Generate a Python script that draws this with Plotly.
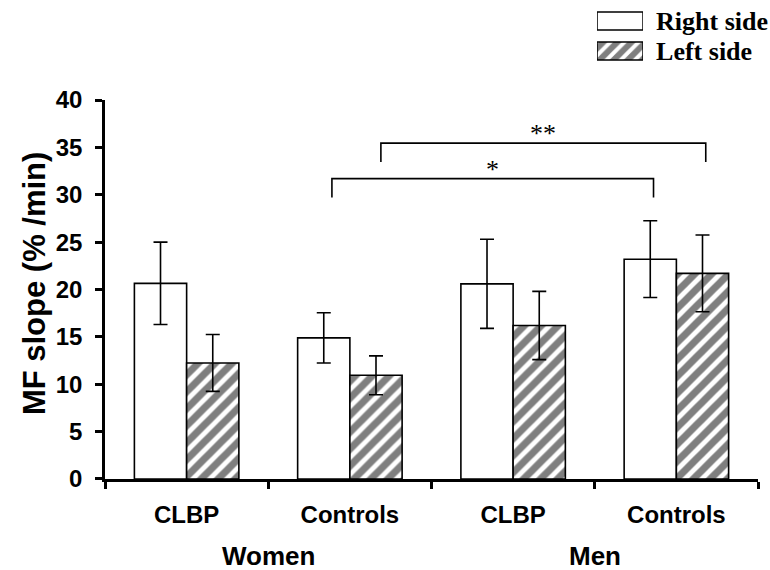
import plotly.graph_objects as go

# ---- data ----
categories = ["CLBP", "Controls", "CLBP", "Controls"]
groups = ["Women", "Men"]
group_members = [[0, 1], [2, 3]]
series_names = ["Right side", "Left side"]
right_means = [20.65, 14.9, 20.6, 23.2]
right_err = [4.35, 2.65, 4.7, 4.05]
left_means = [12.25, 10.95, 16.2, 21.7]
left_err = [3.0, 2.05, 3.6, 4.05]
y_ticks = [0, 5, 10, 15, 20, 25, 30, 35, 40]
# significance brackets (x in category units, y in % /min)
bracket_x0 = [0.89, 1.19]
bracket_x1 = [2.86, 3.18]
bracket_y = [31.7, 35.45]
bracket_drop = 2.0
bracket_labels = ["*", "**"]

SANS = "Liberation Sans"
SERIF = "Liberation Serif"
xpos = list(range(len(categories)))

fig = go.Figure()
err_style = dict(type="data", symmetric=True, color="black", thickness=1.6, width=7)
hatch = dict(shape="/", fgcolor="black", bgcolor="white", size=12, solidity=0.6)
fig.add_trace(go.Bar(
    x=xpos, y=right_means, name=series_names[0],
    marker=dict(color="white", line=dict(color="black", width=1.6)),
    error_y=dict(array=right_err, **err_style), showlegend=False,
))
fig.add_trace(go.Bar(
    x=xpos, y=left_means, name=series_names[1],
    marker=dict(color="white", line=dict(color="black", width=1.6), pattern=hatch),
    error_y=dict(array=left_err, **err_style), showlegend=False,
))

# legend drawn as small bars on an auxiliary axis
fig.add_trace(go.Bar(
    y=series_names, x=[1, 1], orientation="h", xaxis="x2", yaxis="y2",
    marker=dict(color="white", line=dict(color="black", width=1.6),
                pattern=dict(shape=["", "/"], fgcolor="black", bgcolor="white", size=10, solidity=0.6)),
    showlegend=False, hoverinfo="skip", width=0.6,
))

# brackets
shapes = []
annotations = []
for x0, x1, yb, lab in zip(bracket_x0, bracket_x1, bracket_y, bracket_labels):
    shapes.append(dict(
        type="path", xref="x", yref="y",
        path=f"M {x0},{yb - bracket_drop} L {x0},{yb} L {x1},{yb} L {x1},{yb - bracket_drop}",
        line=dict(color="black", width=1.6),
    ))
    annotations.append(dict(
        x=(x0 + x1) / 2, y=yb, xref="x", yref="y", text=lab, showarrow=False,
        yanchor="bottom", yshift=-7, font=dict(family=SERIF, size=26, color="black"),
    ))

for g, members in zip(groups, group_members):
    annotations.append(dict(
        x=sum(members) / len(members), y=-0.1608, xref="x", yref="paper",
        text=f"<b>{g}</b>", showarrow=False, yanchor="middle",
        font=dict(family=SANS, size=26, color="black"),
    ))

annotations.append(dict(
    x=-0.107, y=0.4092, xref="paper", yref="paper", text="<b>MF slope (% /min)</b>",
    textangle=-90, showarrow=False, xanchor="center", yanchor="middle",
    font=dict(family=SANS, size=31, color="black"),
))

fig.update_layout(
    width=770, height=570,
    margin=dict(l=105, r=12, t=0, b=91, autoexpand=False),
    paper_bgcolor="white", plot_bgcolor="white",
    barmode="group", bargap=0.36, bargroupgap=0,
    shapes=shapes, annotations=annotations,
    xaxis=dict(
        range=[-0.5, 3.5], tickvals=xpos, ticktext=[f"<b>{c}</b>" for c in categories],
        ticks="", showline=True, linecolor="black", linewidth=2.5, showgrid=False, zeroline=False,
        tickfont=dict(family=SANS, size=24, color="black"), ticklabelstandoff=12,
        minor=dict(tick0=-0.5, dtick=1, ticks="outside", ticklen=7, tickwidth=2.5, tickcolor="black", showgrid=False),
        domain=[0, 1], automargin=False,
    ),
    yaxis=dict(
        range=[0, 40], tickvals=y_ticks, ticktext=[f"<b>{t}</b>" for t in y_ticks],
        ticks="outside", ticklen=7, tickwidth=2.5, tickcolor="black",
        showline=True, linecolor="black", linewidth=2.5, showgrid=False, zeroline=False,
        tickfont=dict(family=SANS, size=24, color="black"), ticklabelstandoff=8,
        domain=[0, 0.7912], automargin=False,
    ),
    xaxis2=dict(domain=[0.7534, 0.824], range=[0, 1], visible=False, anchor="y2", automargin=False),
    yaxis2=dict(domain=[0.8622, 0.9875], anchor="x2", side="right", categoryorder="array",
                categoryarray=series_names[::-1], showline=False, showgrid=False, zeroline=False,
                ticks="", ticklabelstandoff=12, automargin=False,
                tickfont=dict(family=SERIF, size=26, color="black"),
                ticktext=[f"<b>{s}</b>" for s in series_names[::-1]], tickvals=series_names[::-1]),
)

fig.write_html("out.html", config={"displayModeBar": False},
               post_script="document.body.style.margin='0';document.body.style.overflow='hidden';")
